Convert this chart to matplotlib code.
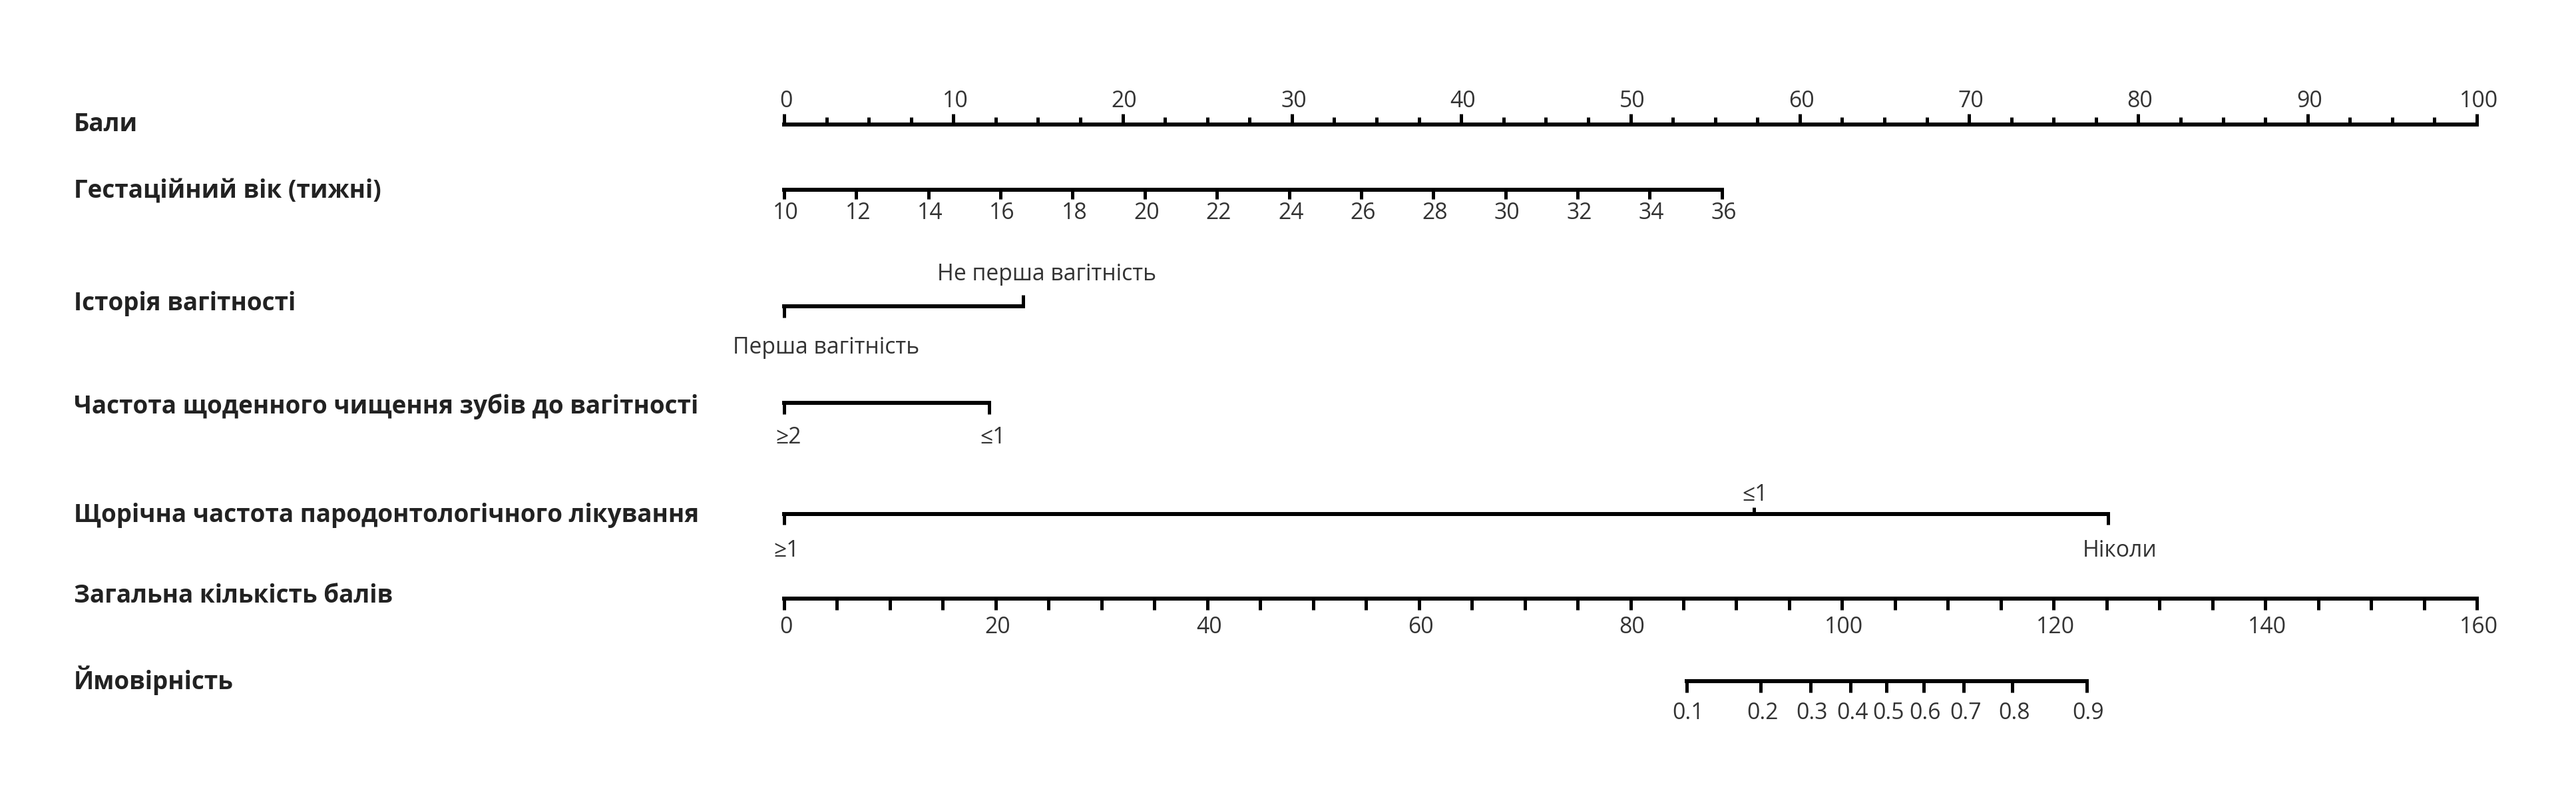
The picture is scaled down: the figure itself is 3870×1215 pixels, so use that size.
import numpy as np
import matplotlib
matplotlib.use('Agg')
import matplotlib.pyplot as plt

# ---------------- data ----------------
row_titles = ['Бали',
              'Гестаційний вік (тижні)',
              'Історія вагітності',
              'Частота щоденного чищення зубів до вагітності',
              'Щорічна частота пародонтологічного лікування',
              'Загальна кількість балів',
              'Ймовірність']

points_ticks = np.arange(0, 100.01, 2.5)
points_labels = [0, 10, 20, 30, 40, 50, 60, 70, 80, 90, 100]

gest_weeks = [10, 12, 14, 16, 18, 20, 22, 24, 26, 28, 30, 32, 34, 36]
gest_week_range = [10, 36]
gest_point_range = [0, 55.4]

history_labels = ['Перша вагітність', 'Не перша вагітність']
history_points = [0, 14.1]

brush_labels = ['≥2', '≤1']
brush_points = [0, 12.1]

perio_labels = ['≥1', '≤1', 'Ніколи']
perio_points = [0, 57.3, 78.2]

total_ticks = np.arange(0, 160.01, 5)
total_labels = [0, 20, 40, 60, 80, 100, 120, 140, 160]
total_max = 160

prob_values = [0.1, 0.2, 0.3, 0.4, 0.5, 0.6, 0.7, 0.8, 0.9]
prob_total_points = [85.3, 92.3, 97.0, 100.8, 104.2, 107.7, 111.5, 116.1, 123.1]

# ---------------- style / layout ----------------
plt.rcParams['font.family'] = ['Open Sans', 'DejaVu Sans']
W, H, DPI = 3870, 1215, 300
PX_PER_PT = 25.43           # pixels per "Бали" point
X0_PX = 1178                # pixel position of 0 points
LW = 6 * 72 / DPI           # axis line width
TW = 5 * 72 / DPI           # tick width
TITLE_FS = 8.85
LABEL_FS = 8.1
TITLE_COLOR = '#222222'
LABEL_COLOR = '#333333'

line_y = [187, 285, 460, 605, 772, 899, 1023]
title_y = [187, 287, 456, 611, 774, 895, 1022]
title_x = 111 / W

fig = plt.figure(figsize=(W / DPI, H / DPI), dpi=DPI)
ax = fig.add_axes([0, 0, 1, 1])
ax.set_xlim(-X0_PX / PX_PER_PT, (W - X0_PX) / PX_PER_PT)
ax.set_ylim(H, 0)
ax.axis('off')


def hline(x0, x1, y):
    ax.plot([x0, x1], [y, y], color='black', lw=LW, solid_capstyle='projecting')


def ticks(xs, y, length):
    ax.vlines(xs, y, y + length, color='black', lw=TW, capstyle='butt')


def lab(x, y, s):
    ax.text(x, y, s, ha='center', va='center', fontsize=LABEL_FS, color=LABEL_COLOR)


# row titles
for t, y in zip(row_titles, title_y):
    ax.text(title_x, y, t, transform=ax.get_yaxis_transform(), ha='left', va='center',
            fontsize=TITLE_FS, fontweight='bold', color=TITLE_COLOR)

# 1. points
y = line_y[0]
hline(points_ticks[0], points_ticks[-1], y)
major = [p for p in points_ticks if p % 10 == 0]
minor = [p for p in points_ticks if p % 10 != 0]
ticks(major, y, -16)
ticks(minor, y, -11)
for p in points_labels:
    lab(p + 0.1, 152, str(p))

# 2. gestational age
y = line_y[1]
gx = np.interp(gest_weeks, gest_week_range, gest_point_range)
hline(gx[0], gx[-1], y)
ticks(gx, y, 14)
for x, w in zip(gx, gest_weeks):
    lab(x + 0.1, 320, str(w))

# 3. pregnancy history
y = line_y[2]
hline(history_points[0], history_points[-1], y)
ticks([history_points[0]], y, 17)
ticks([history_points[1]], y, -17)
lab(history_points[0] + 2.5, 522, history_labels[0])
lab(history_points[1] + 1.4, 412, history_labels[1])

# 4. brushing
y = line_y[3]
hline(brush_points[0], brush_points[-1], y)
ticks(brush_points, y, 17)
for x, s in zip(brush_points, brush_labels):
    lab(x + 0.25, 657, s)

# 5. periodontal treatment
y = line_y[4]
hline(perio_points[0], perio_points[-1], y)
ticks([perio_points[0], perio_points[2]], y, 16)
ticks([perio_points[1]], y, -10)
lab(perio_points[0] + 0.15, 827, perio_labels[0])
lab(perio_points[1] + 0.05, 743, perio_labels[1])
lab(perio_points[2] + 0.7, 827, perio_labels[2])

# 6. total points
y = line_y[5]
tx = np.asarray(total_ticks) * 100 / total_max
hline(tx[0], tx[-1], y)
ticks(tx, y, 17)
for t in total_labels:
    lab(t * 100 / total_max + 0.1, 942, str(t))

# 7. probability
y = line_y[6]
px = np.asarray(prob_total_points) * 100 / total_max
hline(px[0], px[-1], y)
ticks(px, y, 17)
for x, p in zip(px, prob_values):
    lab(x + 0.1, 1071, f'{p:.1f}')

fig.savefig('out.png', dpi=DPI)
